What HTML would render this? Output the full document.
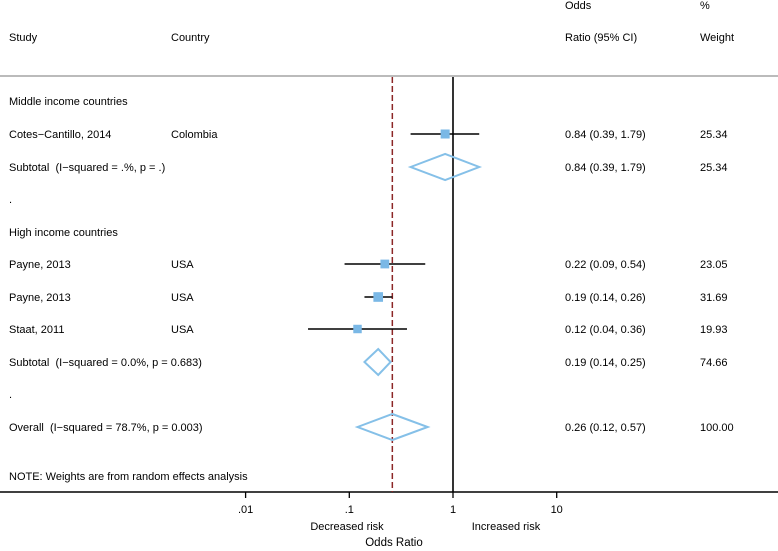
<!DOCTYPE html>
<html><head><meta charset="utf-8"><style>
body{margin:0;background:#fff;}
svg text{font-family:"Liberation Sans",sans-serif;font-size:11px;fill:#000;white-space:pre;}
</style></head><body>
<svg id="chart" width="778" height="546" xmlns="http://www.w3.org/2000/svg" xml:space="preserve">
<g id="static">
<text x="565" y="9">Odds</text>
<text x="700" y="9">%</text>
<text x="9" y="41">Study</text>
<text x="171" y="41">Country</text>
<text x="565" y="41">Ratio (95% CI)</text>
<text x="700" y="41">Weight</text>
<line x1="0" y1="76" x2="778" y2="76" stroke="#bbb" stroke-width="2"/>
<text x="9" y="105">Middle income countries</text>
<text x="9" y="203">.</text>
<text x="9" y="236">High income countries</text>
<text x="9" y="398">.</text>
<text x="9" y="480">NOTE: Weights are from random effects analysis</text>
</g>
<g id="marks"></g>
<text x="347" y="530" text-anchor="middle">Decreased risk</text>
<text x="506" y="530" text-anchor="middle">Increased risk</text>
<text x="394" y="546" text-anchor="middle" style="font-size:11.5px">Odds Ratio</text>
</svg>
<script>
const labels=["Cotes−Cantillo, 2014","Subtotal  (I−squared = .%, p = .)","Payne, 2013","Payne, 2013","Staat, 2011","Subtotal  (I−squared = 0.0%, p = 0.683)","Overall  (I−squared = 78.7%, p = 0.003)"];
const countries=["Colombia","","USA","USA","USA","",""];
const orVals=[0.84,0.84,0.22,0.19,0.12,0.19,0.26];
const loVals=[0.39,0.39,0.09,0.14,0.04,0.14,0.12];
const hiVals=[1.79,1.79,0.54,0.26,0.36,0.25,0.57];
const weights=[25.34,25.34,23.05,31.69,19.93,74.66,100.00];
const isDiamond=[false,true,false,false,false,true,true];
const rowY=[134,167,264,297,329,362,427];
const ticks=[0.01,0.1,1,10];
const tickLabels=[".01",".1","1","10"];
const NS="http://www.w3.org/2000/svg";
const g=document.getElementById('marks');
const xs=v=>453+103.7*Math.log10(v);
function mk(t,a,parent){const e=document.createElementNS(NS,t);for(const k in a)e.setAttribute(k,a[k]);(parent||g).appendChild(e);return e;}
const fmt=v=>v.toFixed(2);
const ax=mk('line',{x1:0,y1:492,x2:778,y2:492,stroke:'#000','stroke-width':1.6});


ticks.forEach((t,i)=>{
 const tl=mk('line',{x1:xs(t),y1:492,x2:xs(t),y2:498,stroke:'#000','stroke-width':1.3});
 
 
 const tx=mk('text',{x:xs(t),y:513,'text-anchor':'middle'});tx.textContent=tickLabels[i];
 
 
});
const nl=mk('line',{x1:xs(1),y1:77,x2:xs(1),y2:492,stroke:'#000','stroke-width':1.6});


const ov=orVals[orVals.length-1];
const dl=mk('line',{x1:xs(ov),y1:77,x2:xs(ov),y2:492,stroke:'#8c2626','stroke-width':1.5,'stroke-dasharray':'6,3'});


labels.forEach((lab,i)=>{
 const y=rowY[i];
 const t=mk('text',{x:9,y:y+4});t.textContent=lab;
 
 
 if(countries[i]){const c=mk('text',{x:171,y:y+4});c.textContent=countries[i];
  
  }
 const o=mk('text',{x:565,y:y+4});o.textContent=fmt(orVals[i])+" ("+fmt(loVals[i])+", "+fmt(hiVals[i])+")";
 
 
 const w=mk('text',{x:700,y:y+4});w.textContent=fmt(weights[i]);
 
 
 const x0=xs(loVals[i]),x1=xs(hiVals[i]),xm=xs(orVals[i]);
 if(isDiamond[i]){
  const d=mk('polygon',{points:`${x0},${y} ${xm},${y-13} ${x1},${y} ${xm},${y+13}`,fill:'none',stroke:'#85c0e8','stroke-width':2});
  
  
 } else {
  const ci=mk('line',{x1:x0,y1:y,x2:x1,y2:y,stroke:'#000','stroke-width':1.6});
  
  
  const s=4+1*Math.sqrt(weights[i]);
  const b=mk('rect',{x:xm-s/2,y:y-s/2,width:s,height:s,fill:'#7ab8e6'});
  
  
 }
});
</script>
</body></html>
